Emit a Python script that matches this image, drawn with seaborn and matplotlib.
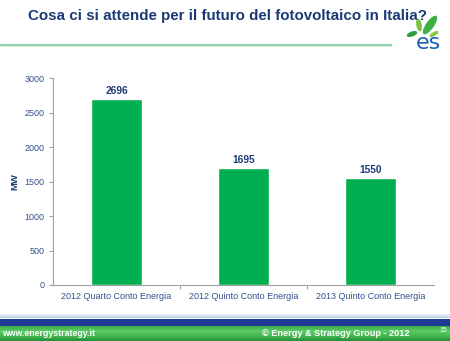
import numpy as np
import pandas as pd
import matplotlib
matplotlib.use("Agg")
import matplotlib.pyplot as plt
from matplotlib.patches import Rectangle, Ellipse
import seaborn as sns

# Data
categories = ["2012 Quarto Conto Energia", "2012 Quinto Conto Energia", "2013 Quinto Conto Energia"]
values_mw = [2696, 1695, 1550]
y_ticks = [0, 500, 1000, 1500, 2000, 2500, 3000]

title = "Cosa ci si attende per il futuro del fotovoltaico in Italia?"
footer_left = "www.energystrategy.it"
footer_right = "\u00a9 Energy & Strategy Group - 2012"
page_no = "15"

BAR_GREEN = "#00b050"
DARK_BLUE = "#1b3b74"
TICK_BLUE = "#34508c"

sns.set_theme(style="white")
plt.rcParams["font.family"] = ["Liberation Sans", "DejaVu Sans"]

fig = plt.figure(figsize=(4.5, 3.41), dpi=100)
fig.patch.set_facecolor("white")

# Background layer for slide decorations (pixel coordinates, y downwards)
bg = fig.add_axes([0, 0, 1, 1], zorder=0)
bg.set_xlim(0, 450)
bg.set_ylim(341, 0)
bg.axis("off")

# Title rule
bg.plot([0, 392], [45, 45], color="#8fcfa8", lw=1.4, solid_capstyle="butt")
bg.plot([0, 392], [46.3, 46.3], color="#d8efe0", lw=0.8, solid_capstyle="butt")

# Footer bands
lb = np.linspace(0, 1, 10).reshape(-1, 1)
bg.imshow(lb, extent=[0, 450, 318.5, 314], cmap=matplotlib.colors.LinearSegmentedColormap.from_list(
    "lb", ["#ffffff", "#b8c8ee"]), aspect="auto", zorder=1)
bg.add_patch(Rectangle((0, 318.5), 450, 7.5, color="#1c3a96", zorder=2, lw=0))
grad = np.linspace(0, 1, 50).reshape(-1, 1)
green_cmap = matplotlib.colors.LinearSegmentedColormap.from_list(
    "gf", ["#3aa845", "#5ccc68", "#44b84f", "#23903a"])
bg.imshow(grad, extent=[0, 450, 341, 326], cmap=green_cmap, aspect="auto", zorder=1)

bg.text(2, 333.5, footer_left, color="white", fontsize=6.3, fontweight="semibold",
        va="center", ha="left", zorder=3)
bg.text(410, 333.5, footer_right, color="white", fontsize=6.6, fontweight="semibold",
        va="center", ha="right", zorder=3)
bg.text(443, 330.5, page_no, color="white", fontsize=5.0, rotation=0,
        va="center", ha="center", zorder=3)

# Title
bg.text(228, 16, title, color=DARK_BLUE, fontsize=10.9, fontweight="bold",
        ha="center", va="center", zorder=3)

# Logo: green leaves and "es"
leaf_specs = [
    (430, 25, 22, 8, 55, "#3cb043"),
    (419, 25, 13, 5.5, 100, "#7cc242"),
    (412, 34, 11, 5, 20, "#2e9e3e"),
    (434, 34, 10, 4, 30, "#8dc63f"),
]
for cx, cy, w, h, ang, col in leaf_specs:
    bg.add_patch(Ellipse((cx, cy), w, h, angle=-ang, color=col, zorder=3, lw=0))
bg.text(428, 43, "es", color="#1a5fb4", fontsize=16, ha="center", va="center",
        zorder=4, family=["DejaVu Sans"])

# Main chart
ax = fig.add_axes([53 / 450, 1 - 285 / 341, (434 - 53) / 450, (285 - 78) / 341], zorder=2)
ax.patch.set_alpha(0)
df = pd.DataFrame({"cat": categories, "mw": values_mw})
sns.barplot(data=df, x="cat", y="mw", color=BAR_GREEN, saturation=1, width=0.4, ax=ax)

for i, v in enumerate(values_mw):
    ax.text(i, v + 45, f"{v}", ha="center", va="bottom", fontsize=7.3,
            fontweight="bold", color=DARK_BLUE)

ax.set_ylim(0, 3000)
ax.set_xlim(-0.5, 2.5)
ax.set_yticks(y_ticks)
ax.set_yticklabels([str(t) for t in y_ticks])
ax.set_xlabel("")
ax.set_ylabel("MW", fontsize=6.8, fontweight="bold", color=DARK_BLUE)
ax.yaxis.set_label_coords(-0.087, 0.5)

for s in ["top", "right"]:
    ax.spines[s].set_visible(False)
for s in ["left", "bottom"]:
    ax.spines[s].set_color("#a0a0a0")
    ax.spines[s].set_linewidth(0.8)

ax.tick_params(axis="y", which="major", length=3, width=0.8, color="#a0a0a0",
               labelsize=6.5, labelcolor=TICK_BLUE, pad=3, left=True)
ax.tick_params(axis="x", which="major", length=0, labelsize=6.5, labelcolor=TICK_BLUE, pad=5)
ax.set_xticks([0.5, 1.5], minor=True)
ax.tick_params(axis="x", which="minor", length=3, width=0.8, color="#a0a0a0", bottom=True)
ax.grid(False)

fig.savefig("out.png", dpi=100, facecolor="white")
